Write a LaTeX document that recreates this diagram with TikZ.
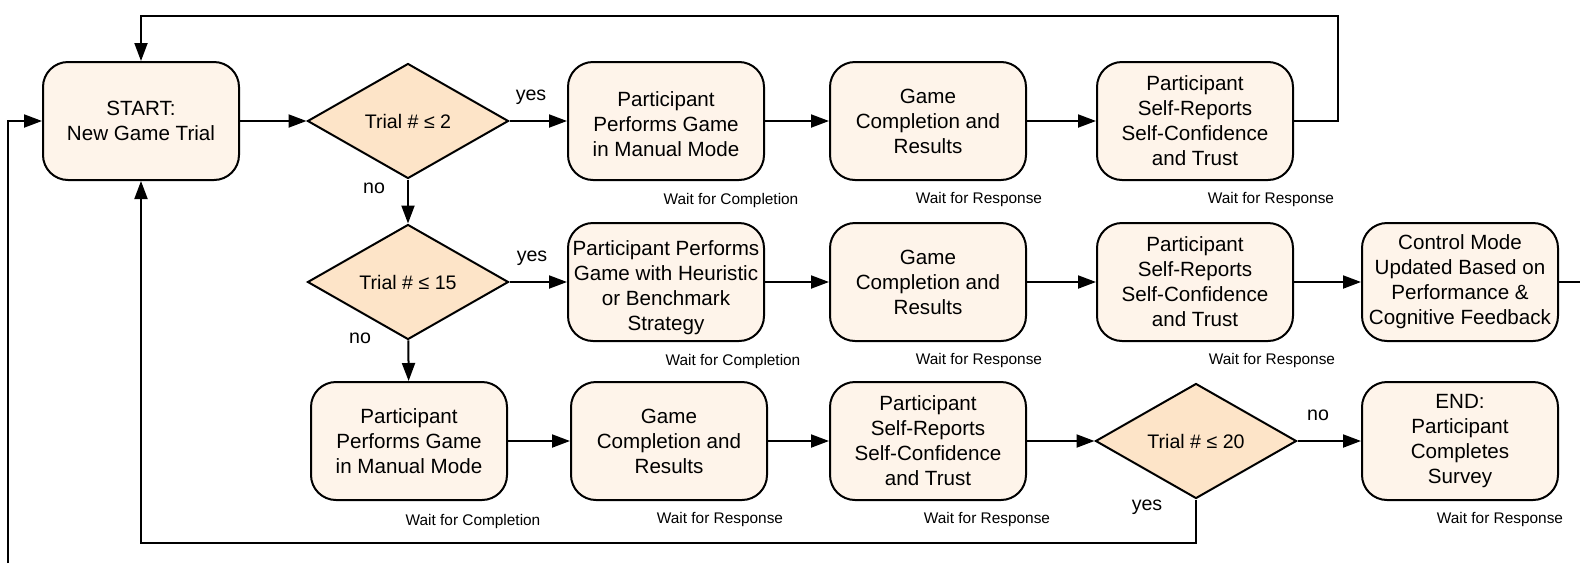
\documentclass[tikz,border=0pt]{standalone}
\usepackage{fontspec}
\setmainfont{Liberation Sans}
\usepackage{tikz}
\usetikzlibrary{arrows.meta,shapes.geometric}

\definecolor{boxfill}{HTML}{FEF4EA}
\definecolor{decfill}{HTML}{FDE4C8}

\newcommand{\topstrut}[1]{\rule{0pt}{#1}}

\tikzset{
  box/.style={draw, line width=2pt, rounded corners=25pt, fill=boxfill,
    minimum width=196pt, minimum height=118pt, inner sep=0pt, align=center,
    font=\fontsize{20.6}{25}\selectfont},
  decision/.style={draw, line width=2pt, diamond, fill=decfill,
    minimum width=201pt, minimum height=115pt, inner sep=0pt,
    font=\fontsize{19.6}{24.5}\selectfont},
  wait/.style={font=\fontsize{15.4}{18}\selectfont},
  lab/.style={font=\fontsize{19.6}{24}\selectfont},
  >={Triangle[length=18pt,width=13pt]},
}

\begin{document}
\begin{tikzpicture}[x=1pt,y=-1pt, line width=2pt]
    \useasboundingbox (0,0) rectangle (1580,563);
    % row 1
    \node[box] (start) at (141,121) {START:\\New Game Trial};
    \node[decision] (d1) at (408,121) {Trial \# ≤ 2};
    \node[box] (p1) at (666,121) {\topstrut{21pt}Participant\\Performs Game\\in Manual Mode};
    \node[box] (g1) at (928,121) {Game\\Completion and\\Results};
    \node[box] (s1) at (1195,121) {Participant\\Self-Reports\\Self-Confidence\\and Trust};
    % row 2
    \node[decision] (d2) at (408,282) {Trial \# ≤ 15};
    \node[box] (p2) at (666,282) {\topstrut{27pt}Participant Performs\\Game with Heuristic\\or Benchmark\\Strategy};
    \node[box] (g2) at (928,282) {Game\\Completion and\\Results};
    \node[box] (s2) at (1195,282) {Participant\\Self-Reports\\Self-Confidence\\and Trust};
    \node[box] (c) at (1460,282) {Control Mode\\Updated Based on\\Performance \&\\Cognitive Feedback};
    % row 3
    \node[box] (p3) at (409,441) {Participant\\Performs Game\\in Manual Mode};
    \node[box] (g3) at (669,441) {Game\\Completion and\\Results};
    \node[box] (s3) at (928,441) {Participant\\Self-Reports\\Self-Confidence\\and Trust};
    \node[decision] (d3) at (1196,441) {Trial \# ≤ 20};
    \node[box] (end) at (1460,441) {END:\\Participant\\Completes\\Survey};
    % waiting notes
    \node[wait] (w1) at (731,201) {Wait for Completion};
    \node[wait] (w2) at (979,200) {Wait for Response};
    \node[wait] (w3) at (1271,200) {Wait for Response};
    \node[wait] (w4) at (733,362) {Wait for Completion};
    \node[wait] (w5) at (979,361) {Wait for Response};
    \node[wait] (w6) at (1272,361) {Wait for Response};
    \node[wait] (w7) at (473,522) {Wait for Completion};
    \node[wait] (w8) at (720,520) {Wait for Response};
    \node[wait] (w9) at (987,520) {Wait for Response};
    \node[wait] (w10) at (1500,520) {Wait for Response};
    % yes / no
    \node[lab] (y1) at (531,97) {yes};
    \node[lab] (n1) at (374,188) {no};
    \node[lab] (y2) at (532,258) {yes};
    \node[lab] (n2) at (360,338) {no};
    \node[lab] (n3) at (1318,415) {no};
    \node[lab] (y3) at (1147,507) {yes};
    % loop points
    \coordinate (top) at (1338,16);
    \coordinate (lb) at (8,563);
    \coordinate (bot) at (141,543);
    \coordinate (cr) at (1580,282);
    % connectors
    \draw[->] (start) -- (d1);
    \draw[->] (d1) -- (p1);
    \draw[->] (p1) -- (g1);
    \draw[->] (g1) -- (s1);
    \draw[->] (s1.east) -| (top) -| (start.north);
    \draw[->] (d1) -- (d2);
    \draw[->] (d2) -- (p2);
    \draw[->] (p2) -- (g2);
    \draw[->] (g2) -- (s2);
    \draw[->] (s2) -- (c);
    \draw (c.east) -- (cr);
    \draw[->] (d2) -- (p3);
    \draw[->] (p3) -- (g3);
    \draw[->] (g3) -- (s3);
    \draw[->] (s3) -- (d3);
    \draw[->] (d3) -- (end);
    \draw[->] (d3.south) |- (bot) -- (start.south);
    \draw[->] (lb) |- (start.west);
\end{tikzpicture}
\end{document}
